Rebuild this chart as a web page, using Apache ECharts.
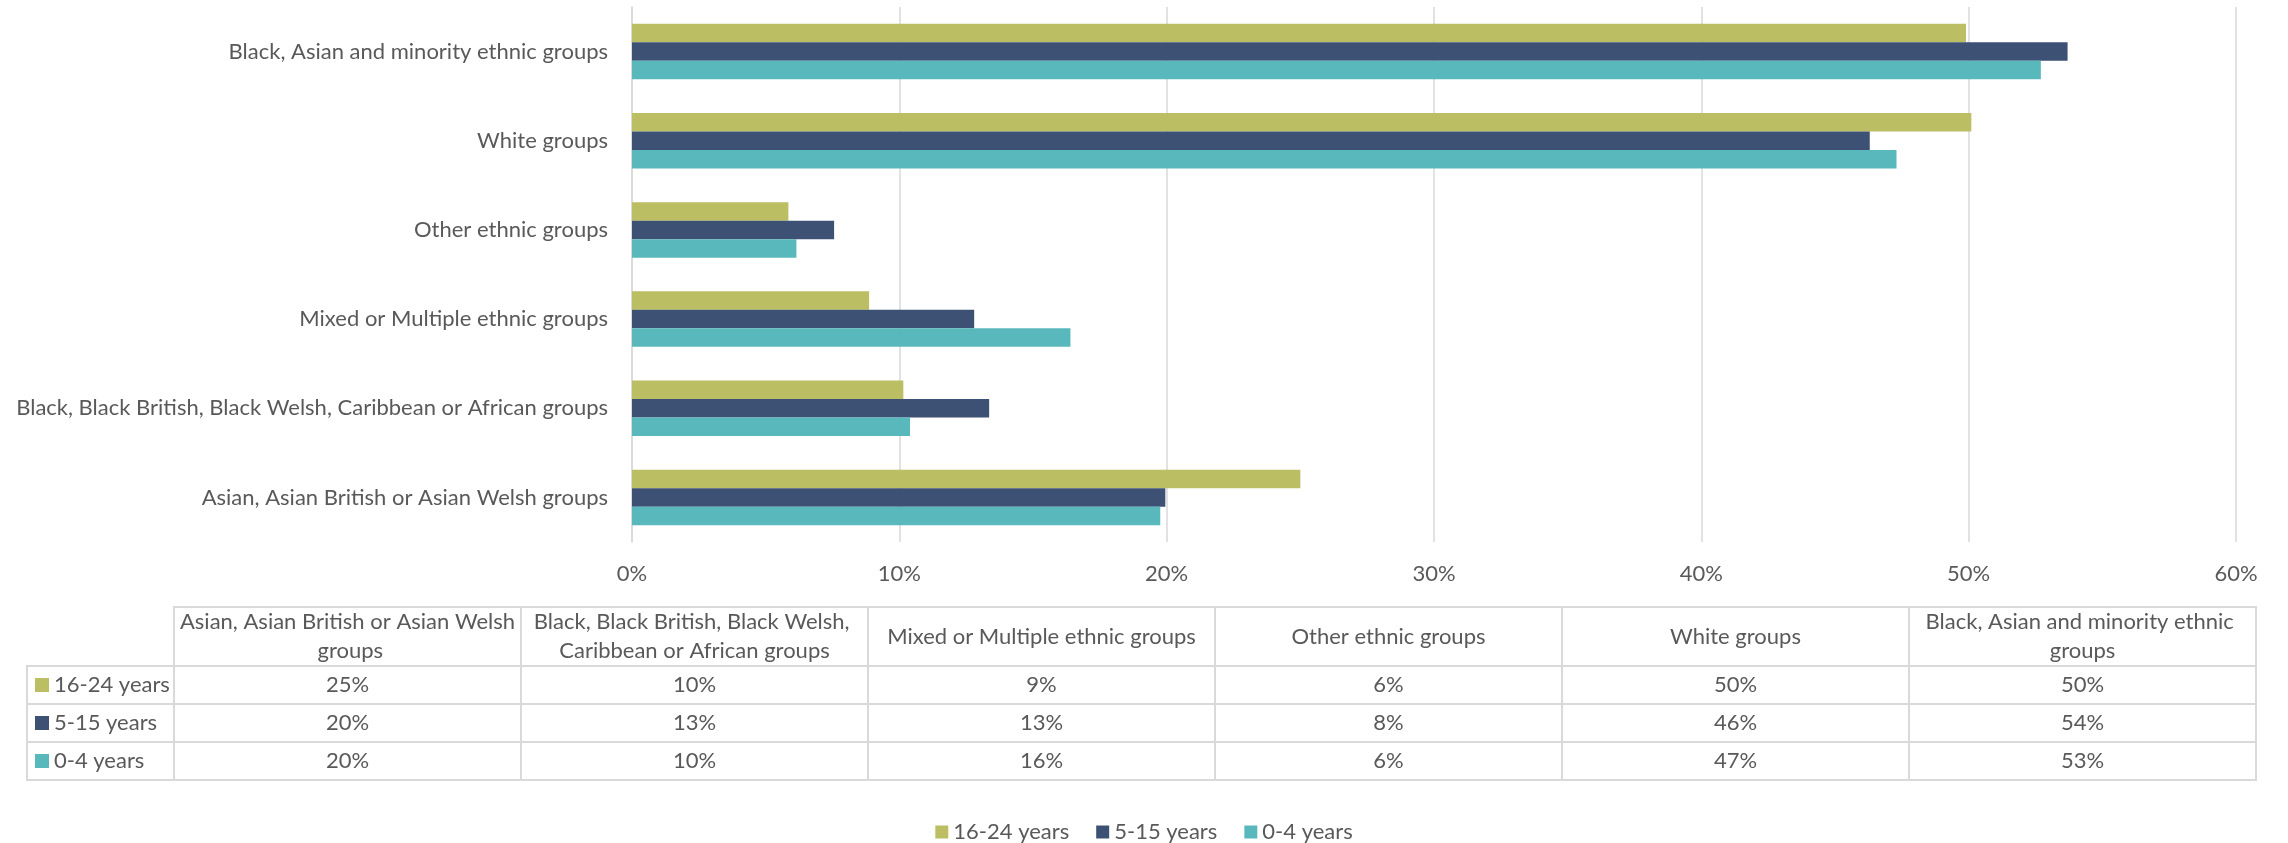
<!DOCTYPE html>
<html>
<head>
<meta charset="utf-8">
<script src="https://cdn.jsdelivr.net/npm/echarts@6/dist/echarts.min.js"></script>
<style>
  html, body { margin: 0; padding: 0; background: #fff; }
  #eChartBar { width: 2288px; height: 843px; }
</style>
</head>
<body>
<div id="eChartBar"></div>
<script>
var categories = [
    'Asian, Asian British or Asian Welsh groups',
    'Black, Black British, Black Welsh, Caribbean or African groups',
    'Mixed or Multiple ethnic groups',
    'Other ethnic groups',
    'White groups',
    'Black, Asian and minority ethnic groups'
];
var seriesNames = ['16-24 years', '5-15 years', '0-4 years'];
var seriesColors = ['#BBBE63', '#3C5173', '#58B8BC'];

var years16to24 = [25.0, 10.15, 8.87, 5.85, 50.1, 49.9];
var years5to15 = [19.95, 13.36, 12.8, 7.56, 46.3, 53.7];
var years0to4 = [19.76, 10.4, 16.4, 6.15, 47.3, 52.7];

var tickMin = 0, tickMax = 60, tickStep = 10;

var seriesValues = [years16to24, years5to15, years0to4];
var FONT = 'Lato, "Open Sans", sans-serif';
var FS = 22;
var TXT = '#595959';
var LINE = '#d9d9d9';

var myChart = echarts.init(document.getElementById('eChartBar'));

// data table under the chart, built from the same arrays
function buildTable() {
    var els = [];
    var left = 27, labelW = 147, colW = 347;
    var headTop = 607, headH = 59, rowH = 38;
    var font = FS + 'px ' + FONT;
    var x0 = left + labelW;
    categories.forEach(function (c, i) {
        var x = x0 + i * colW;
        els.push({ type: 'rect', shape: { x: x, y: headTop, width: colW, height: headH },
            style: { fill: 'none', stroke: LINE, lineWidth: 2 }, silent: true });
        els.push({ type: 'text', x: x + colW / 2, y: headTop + headH / 2, silent: true,
            style: { text: c, font: font, fill: TXT, align: 'center', verticalAlign: 'middle',
                width: colW - 8, overflow: 'break', lineHeight: 29 } });
    });
    seriesNames.forEach(function (name, r) {
        var y = headTop + headH + r * rowH;
        els.push({ type: 'rect', shape: { x: left, y: y, width: labelW, height: rowH },
            style: { fill: 'none', stroke: LINE, lineWidth: 2 }, silent: true });
        els.push({ type: 'rect', shape: { x: left + 8, y: y + rowH / 2 - 7, width: 14, height: 14 },
            style: { fill: seriesColors[r] }, silent: true });
        els.push({ type: 'text', x: left + 27, y: y + rowH / 2, silent: true,
            style: { text: name, font: font, fill: TXT, align: 'left', verticalAlign: 'middle' } });
        seriesValues[r].forEach(function (v, i) {
            var x = x0 + i * colW;
            els.push({ type: 'rect', shape: { x: x, y: y, width: colW, height: rowH },
                style: { fill: 'none', stroke: LINE, lineWidth: 2 }, silent: true });
            els.push({ type: 'text', x: x + colW / 2, y: y + rowH / 2, silent: true,
                style: { text: Math.round(v) + '%', font: font, fill: TXT, align: 'center', verticalAlign: 'middle' } });
        });
    });
    return els;
}

// first series lands on top of each group
var series = seriesNames.map(function (name, s) {
    return {
        name: name,
        type: 'bar',
        barWidth: 18.5,
        barGap: '0%',
        data: seriesValues[s],
        itemStyle: { color: seriesColors[s] }
    };
});

option = {
    backgroundColor: '#fff',
    animation: false,
    textStyle: { fontFamily: FONT },
    grid: { left: 632, right: 52, top: 7, height: 535, containLabel: false },
    legend: {
        data: seriesNames,
        top: 816,
        left: 'center',
        icon: 'rect',
        itemWidth: 13,
        itemHeight: 13,
        itemGap: 27,
        textStyle: { color: TXT, fontSize: FS, fontFamily: FONT }
    },
    xAxis: {
        type: 'value',
        min: tickMin,
        max: tickMax,
        interval: tickStep,
        axisLine: { show: false },
        axisTick: { show: false },
        splitLine: { lineStyle: { color: LINE, width: 1.5 } },
        axisLabel: { formatter: '{value}%', color: TXT, fontSize: FS, margin: 21, fontFamily: FONT }
    },
    yAxis: {
        type: 'category',
        data: categories,
        axisLine: { lineStyle: { color: LINE, width: 1.5 } },
        axisTick: { show: false },
        axisLabel: { color: TXT, fontSize: FS, margin: 24, fontFamily: FONT }
    },
    graphic: buildTable(),
    series: series
};

myChart.setOption(option);
</script>
</body>
</html>
